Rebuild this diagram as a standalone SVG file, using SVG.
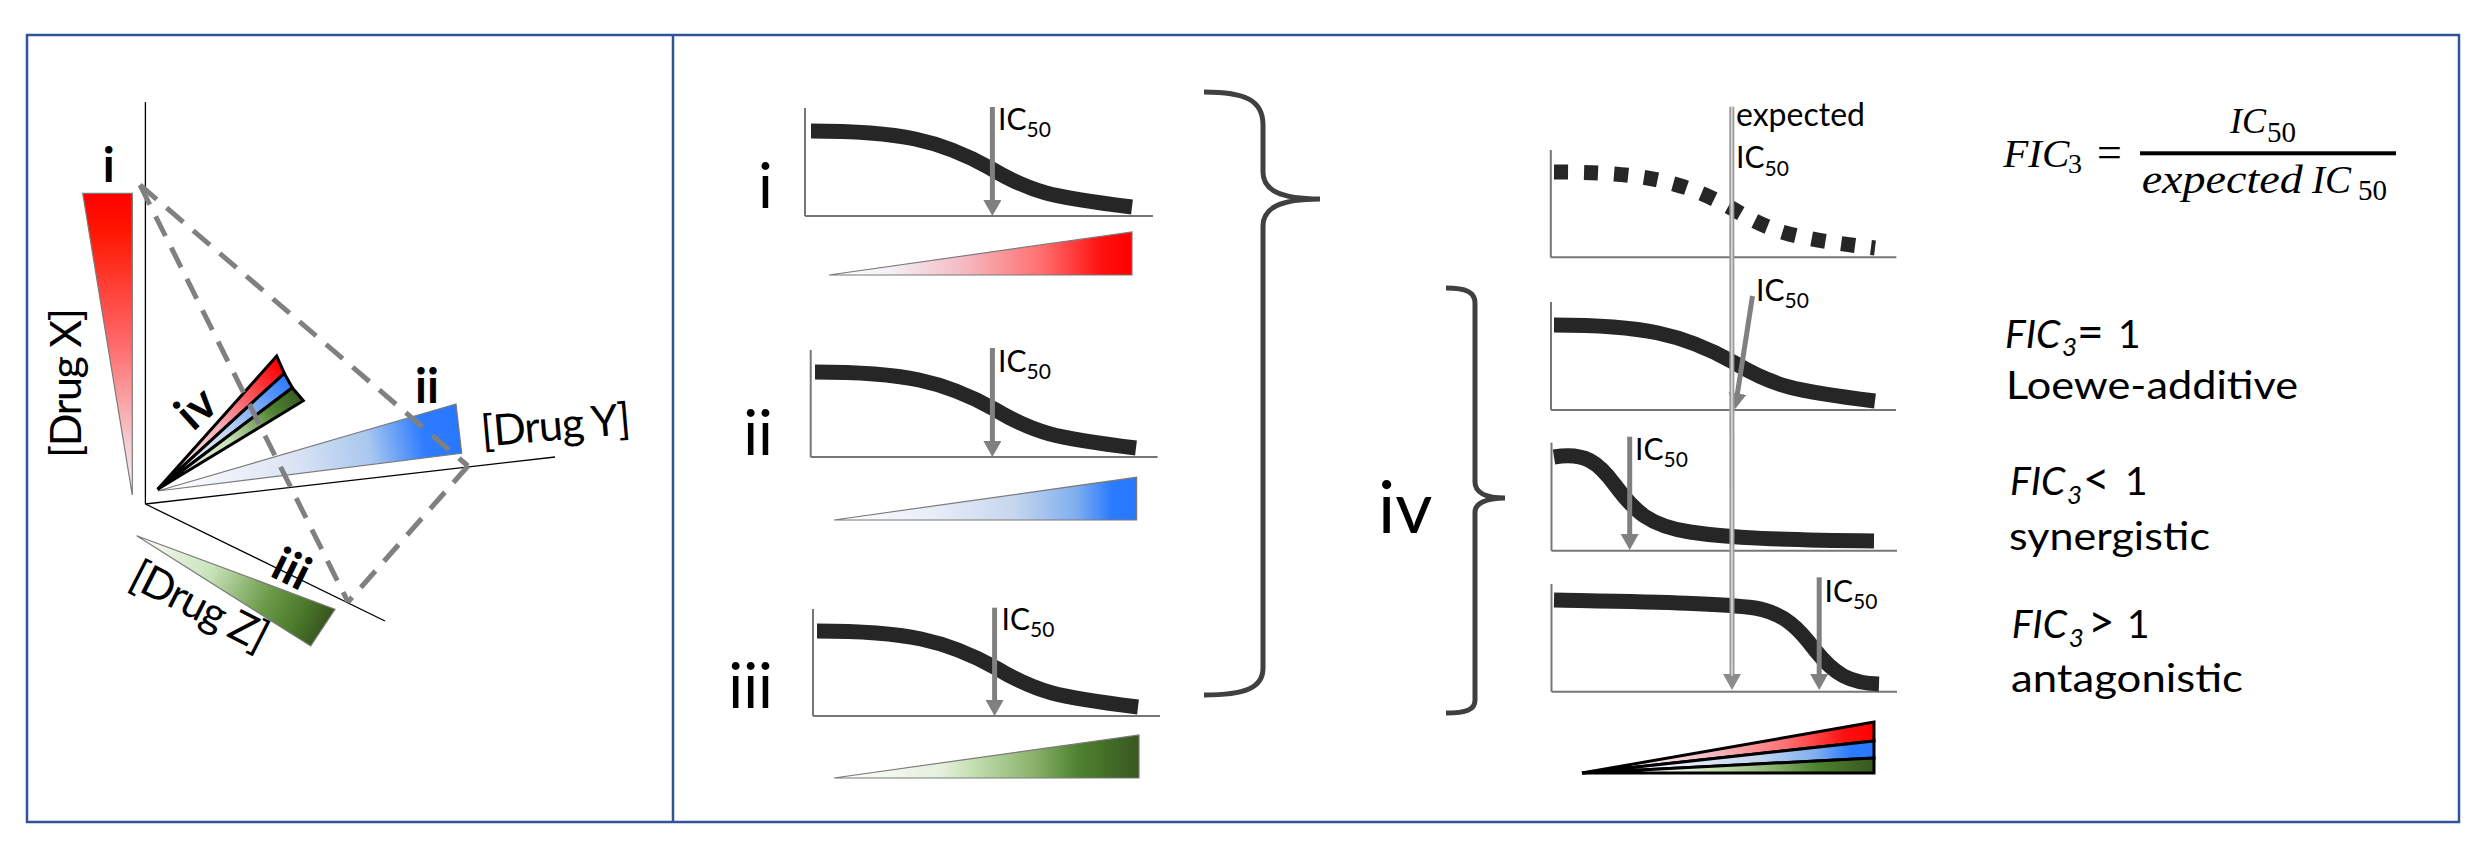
<svg xmlns="http://www.w3.org/2000/svg" width="2489" height="845" viewBox="0 0 2489 845">
<defs>
<style>
.sans{font-family:Lato,'Open Sans','Liberation Sans',sans-serif;fill:#000}
.serif{font-family:'Liberation Serif','DejaVu Serif',serif;fill:#000}
.it{font-style:italic}
.curve{fill:none;stroke:#262626;stroke-width:15;stroke-linecap:butt}
.ax{stroke:#767676;stroke-width:2;fill:none}
.arr{stroke:#808080;stroke-width:5;fill:none;marker-end:url(#ah)}
.ax3{stroke:#000;stroke-width:1.3;fill:none}
.dash{stroke:#808080;stroke-width:5;stroke-dasharray:22 13;fill:none}
.tri{stroke:#7a7a7a;stroke-width:1.2}
.wedge{stroke:#000;stroke-width:3;stroke-linejoin:miter}
.brace{fill:none;stroke:#404040;stroke-width:5}
.ic{font-size:30px}
.lbl{font-size:62px}
.bold{font-weight:bold;font-size:47px}
.drug{font-size:43px}
.rt{font-size:39px}
.op{font-size:46px}
</style>
<marker id="ah" viewBox="0 0 16 18" markerWidth="16" markerHeight="18" refX="2" refY="9" orient="auto" markerUnits="userSpaceOnUse"><path d="M0,0 L16,9 L0,18 z" fill="#808080"/></marker>
<marker id="ah2" viewBox="0 0 16 18" markerWidth="16" markerHeight="18" refX="2" refY="9" orient="auto" markerUnits="userSpaceOnUse"><path d="M0,0 L16,9 L0,18 z" fill="#8c8c8c"/></marker>
<linearGradient id="gR" x1="0" y1="0" x2="1" y2="0">
<stop offset="0" stop-color="#ffffff"/><stop offset="0.2" stop-color="#f3f0f6"/><stop offset="0.45" stop-color="#f5b8c0"/><stop offset="0.7" stop-color="#ff7070"/><stop offset="0.9" stop-color="#ff1010"/><stop offset="1" stop-color="#ff0000"/>
</linearGradient>
<linearGradient id="gB" x1="0" y1="0" x2="1" y2="0">
<stop offset="0" stop-color="#ffffff"/><stop offset="0.35" stop-color="#e6ebf7"/><stop offset="0.6" stop-color="#c5d6ee"/><stop offset="0.8" stop-color="#7faeee"/><stop offset="0.92" stop-color="#2a7bff"/><stop offset="1" stop-color="#2878ff"/>
</linearGradient>
<linearGradient id="gG" x1="0" y1="0" x2="1" y2="0">
<stop offset="0" stop-color="#ffffff"/><stop offset="0.35" stop-color="#e4f0dc"/><stop offset="0.45" stop-color="#c5e0b3"/><stop offset="0.65" stop-color="#8cb36e"/><stop offset="0.8" stop-color="#4e8230"/><stop offset="1" stop-color="#38571f"/>
</linearGradient>
<linearGradient id="gRx" x1="0" y1="1" x2="0" y2="0">
<stop offset="0" stop-color="#f4f4fa"/><stop offset="0.2" stop-color="#f6c4c8"/><stop offset="0.5" stop-color="#ff6a6a"/><stop offset="0.88" stop-color="#ff1500"/><stop offset="1" stop-color="#ff0000"/>
</linearGradient>
<linearGradient id="gBy" gradientUnits="userSpaceOnUse" x1="158" y1="491" x2="459" y2="429">
<stop offset="0" stop-color="#ffffff"/><stop offset="0.45" stop-color="#dce4f4"/><stop offset="0.7" stop-color="#a9c8ee"/><stop offset="0.88" stop-color="#2e7cff"/><stop offset="1" stop-color="#2878ff"/>
</linearGradient>
<linearGradient id="gGz" gradientUnits="userSpaceOnUse" x1="137" y1="536" x2="323" y2="628">
<stop offset="0" stop-color="#ffffff"/><stop offset="0.4" stop-color="#c8e2b8"/><stop offset="0.7" stop-color="#6a9a48"/><stop offset="0.85" stop-color="#4f7f2e"/><stop offset="1" stop-color="#38571f"/>
</linearGradient>
<linearGradient id="wR" gradientUnits="userSpaceOnUse" x1="158" y1="489" x2="290" y2="378">
<stop offset="0" stop-color="#ffffff"/><stop offset="0.5" stop-color="#f6b0b8"/><stop offset="1" stop-color="#ff0000"/>
</linearGradient>
<linearGradient id="wB" gradientUnits="userSpaceOnUse" x1="158" y1="489" x2="290" y2="378">
<stop offset="0" stop-color="#ffffff"/><stop offset="0.5" stop-color="#c8d8f0"/><stop offset="1" stop-color="#2878ff"/>
</linearGradient>
<linearGradient id="wG" gradientUnits="userSpaceOnUse" x1="158" y1="489" x2="290" y2="378">
<stop offset="0" stop-color="#ffffff"/><stop offset="0.5" stop-color="#c5e0b3"/><stop offset="0.8" stop-color="#4e8230"/><stop offset="1" stop-color="#38571f"/>
</linearGradient>
</defs>

<rect x="0" y="0" width="2489" height="845" fill="#ffffff"/>

<g id="frame" fill="none" stroke="#2f5597" stroke-width="2.5">
<rect x="27" y="35" width="2432" height="787"/>
<line x1="673" y1="35" x2="673" y2="822"/>
</g>

<g id="panel-3d">
<line class="ax3" x1="145.4" y1="102" x2="145.4" y2="504"/>
<line class="ax3" x1="145.4" y1="504" x2="555" y2="457"/>
<line class="ax3" x1="145.4" y1="504" x2="385" y2="621"/>
<polygon class="tri" points="82.7,193.3 132.3,193.3 132.3,495" fill="url(#gRx)"/>
<polygon class="tri" points="157.7,491 456,404 461.7,453.3" fill="url(#gBy)"/>
<polygon class="tri" points="136.7,535.7 335,609.3 310.7,646" fill="url(#gGz)"/>
<g id="wedge-iv">
<polygon class="wedge" points="157.7,489.3 276.7,356 284.3,373.3" fill="url(#wR)"/>
<polygon class="wedge" points="157.7,489.3 284.3,373.3 292.3,387.7" fill="url(#wB)"/>
<polygon class="wedge" points="157.7,489.3 292.3,387.7 303.3,400.7" fill="url(#wG)"/>
</g>
<line class="dash" x1="140" y1="185" x2="468" y2="466"/>
<line class="dash" x1="140" y1="185" x2="348" y2="602"/>
<line class="dash" x1="468" y1="466" x2="348" y2="602"/>
<text class="sans bold" x="108.7" y="182.3" text-anchor="middle">i</text>
<text class="sans bold" x="427" y="403" text-anchor="middle">ii</text>
<text class="sans bold" transform="translate(284.5,583.3) rotate(26)" text-anchor="middle">iii</text>
<text class="sans bold" transform="translate(206.7,420) rotate(-42)" text-anchor="middle">iv</text>
<text class="sans drug" transform="translate(81,383) rotate(-90)" text-anchor="middle" textLength="150">[Drug X]</text>
<text class="sans drug" transform="translate(557,440) rotate(-5)" text-anchor="middle" textLength="150">[Drug Y]</text>
<text class="sans drug" transform="translate(193,619) rotate(27)" text-anchor="middle" textLength="148">[Drug Z]</text>
</g>

<g id="plot-i">
<text class="sans lbl" x="773" y="208" text-anchor="end">i</text>
<line class="ax" x1="805" y1="108" x2="805" y2="216"/>
<line class="ax" x1="805" y1="216" x2="1153" y2="216"/>
<path class="curve" d="M811,131 c89,0 129,9 179,37 c40,24 60,29 142,39"/>
<line class="arr" x1="992.4" y1="107" x2="992.4" y2="202"/>
<text class="sans ic" x="998" y="130">IC<tspan font-size="21" dy="7">50</tspan></text>
<polygon class="tri" points="829,275 1132,232 1132,275" fill="url(#gR)"/>
</g>

<g id="plot-ii">
<text class="sans lbl" x="773" y="455" text-anchor="end">ii</text>
<line class="ax" x1="810.7" y1="350" x2="810.7" y2="457"/>
<line class="ax" x1="810.7" y1="457" x2="1157.6" y2="457"/>
<path class="curve" d="M815,372 c89,0 129,9 179,37 c40,24 60,29 142,39"/>
<line class="arr" x1="992.4" y1="348" x2="992.4" y2="443"/>
<text class="sans ic" x="998" y="371.7">IC<tspan font-size="21" dy="7">50</tspan></text>
<polygon class="tri" points="834,520 1136.6,477.3 1136.6,520" fill="url(#gB)"/>
</g>

<g id="plot-iii">
<text class="sans lbl" x="773" y="708" text-anchor="end">iii</text>
<line class="ax" x1="813" y1="609" x2="813" y2="716"/>
<line class="ax" x1="813" y1="716" x2="1160" y2="716"/>
<path class="curve" d="M817,631 c89,0 129,9 179,37 c40,24 60,29 142,39"/>
<line class="arr" x1="994.6" y1="607.7" x2="994.6" y2="702"/>
<text class="sans ic" x="1001.5" y="630">IC<tspan font-size="21" dy="7">50</tspan></text>
<polygon class="tri" points="834,778 1139,735 1139,778" fill="url(#gG)"/>
</g>

<g id="brace-main">
<path class="brace" d="M1204,92 C1245,92 1263,100 1263,125 L1263,172 C1263,190 1280,199 1320,199 C1280,199 1263,208 1263,226 L1263,668 C1263,688 1245,695 1204,695"/>
</g>

<g id="brace-iv">
<path class="brace" d="M1446,288 C1466,288 1475,292 1475,303 L1475,482 C1475,492 1485,498 1505,498 C1485,498 1475,504 1475,512 L1475,700 C1475,710 1466,713 1446,713"/>
<text class="sans" x="1378" y="533" font-size="72">iv</text>
</g>

<g id="plot-expected">
<line class="ax" x1="1550.8" y1="150" x2="1550.8" y2="257.3"/>
<line class="ax" x1="1550.8" y1="257.3" x2="1896.3" y2="257.3"/>
<path class="curve" d="M1554,172 c89,0 129,9 179,37 c40,24 60,29 142,39" stroke-dasharray="14 16"/>
<text class="sans" x="1736" y="126" font-size="32">expected</text>
<text class="sans ic" x="1736" y="168.3">IC<tspan font-size="21" dy="7.5">50</tspan></text>
</g>

<g id="plot-additive">
<line class="ax" x1="1551" y1="302" x2="1551" y2="410"/>
<line class="ax" x1="1551" y1="410" x2="1896" y2="410"/>
<path class="curve" d="M1554,325 c89,0 129,9 179,37 c40,24 60,29 142,39"/>
<text class="sans ic" x="1756" y="300.7">IC<tspan font-size="21" dy="7.5">50</tspan></text>
</g>

<g id="plot-synergistic">
<line class="ax" x1="1551.5" y1="442.7" x2="1551.5" y2="550.7"/>
<line class="ax" x1="1551.5" y1="550.7" x2="1897" y2="550.7"/>
<path class="curve" d="M1554,457 C1585,452 1598,462 1615,485 C1635,512 1650,526 1690,532 C1730,538 1780,540 1874,541"/>
<line class="arr" x1="1629.7" y1="436.7" x2="1629.7" y2="536"/>
<text class="sans ic" x="1635" y="460">IC<tspan font-size="21" dy="7">50</tspan></text>
</g>

<g id="plot-antagonistic">
<line class="ax" x1="1551.5" y1="584" x2="1551.5" y2="691.7"/>
<line class="ax" x1="1551.5" y1="691.7" x2="1897" y2="691.7"/>
<path class="curve" d="M1554,600 C1650,602 1720,603 1755,608 C1785,613 1800,630 1815,650 C1835,675 1850,683 1879,684"/>
<line class="arr" x1="1819.2" y1="577.3" x2="1819.2" y2="676"/>
<text class="sans ic" x="1824.5" y="601.7">IC<tspan font-size="21" dy="7">50</tspan></text>
</g>

<g id="connectors">
<line class="arr" x1="1752.5" y1="296" x2="1737.1" y2="395.5"/>
<line x1="1731.8" y1="106.7" x2="1732" y2="676" stroke="#9a9a9a" stroke-width="5" marker-end="url(#ah2)"/>
<line x1="1731.8" y1="106.7" x2="1732" y2="676" stroke="#d9d9d9" stroke-width="1.6"/>
</g>

<g id="combined-wedge">
<polygon class="wedge" points="1582,773 1874,722 1874,741" fill="url(#gR)" stroke-width="3.5"/>
<polygon class="wedge" points="1582,773 1874,741 1874,758" fill="url(#gB)" stroke-width="3.5"/>
<polygon class="wedge" points="1582,773 1874,758 1874,773" fill="url(#gG)" stroke-width="3.5"/>
</g>

<g id="formula">
<text class="serif" y="166.7" font-size="41"><tspan class="it" x="2003.3">FIC</tspan><tspan x="2068" y="172.7" font-size="28">3</tspan><tspan x="2097" y="166.7" font-size="44">=</tspan></text>
<rect x="2140" y="151.3" width="256" height="4" fill="#000"/>
<text class="serif" y="133.3" font-size="36"><tspan class="it" x="2230">IC</tspan><tspan x="2267" y="141.7" font-size="29">50</tspan></text>
<text class="serif it" x="2141.7" y="193.3" font-size="40" textLength="161" lengthAdjust="spacingAndGlyphs">expected</text>
<text class="serif" y="193.3" font-size="39"><tspan class="it" x="2312">IC</tspan><tspan x="2358" y="200" font-size="29">50</tspan></text>
</g>

<g id="legend-additive">
<text class="sans rt" y="348.3"><tspan class="it" x="2005">FIC</tspan><tspan class="it" x="2062" y="356" font-size="26">3</tspan><tspan class="op" x="2077" y="348.3">=</tspan><tspan x="2118">1</tspan></text>
<text class="sans rt" x="2006" y="399" textLength="292" lengthAdjust="spacingAndGlyphs">Loewe-additive</text>
</g>

<g id="legend-synergistic">
<text class="sans rt" y="495"><tspan class="it" x="2010">FIC</tspan><tspan class="it" x="2067" y="504" font-size="26">3</tspan><tspan class="op" x="2083" y="495">&lt;</tspan><tspan x="2125">1</tspan></text>
<text class="sans rt" x="2009" y="550" textLength="201" lengthAdjust="spacingAndGlyphs">synergistic</text>
</g>

<g id="legend-antagonistic">
<text class="sans rt" y="638.3"><tspan class="it" x="2011.7">FIC</tspan><tspan class="it" x="2068.7" y="647.3" font-size="26">3</tspan><tspan class="op" x="2088" y="638.3">&gt;</tspan><tspan x="2127">1</tspan></text>
<text class="sans rt" x="2011" y="691.7" textLength="232" lengthAdjust="spacingAndGlyphs">antagonistic</text>
</g>
</svg>
